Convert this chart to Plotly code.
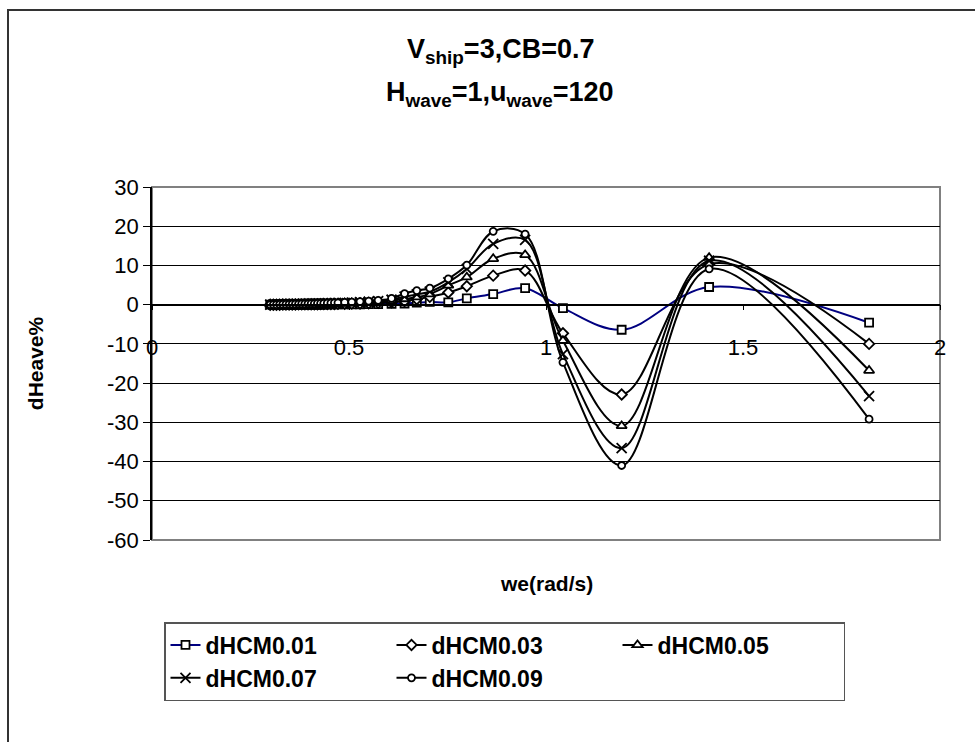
import plotly.graph_objects as go

we = [0.300, 0.308, 0.316, 0.324, 0.332, 0.340, 0.348, 0.356, 0.364, 0.372,
      0.380, 0.388, 0.396, 0.404, 0.412, 0.420, 0.428, 0.436, 0.445, 0.454,
      0.463, 0.472, 0.489, 0.507, 0.528, 0.550, 0.574, 0.608, 0.641, 0.672,
      0.705, 0.752, 0.799, 0.866, 0.947, 1.043, 1.192, 1.414, 1.820]

dHCM001 = [0.0, 0.0, 0.0, 0.0, 0.0, 0.0, 0.0, 0.0, 0.01, 0.01,
           0.01, 0.02, 0.02, 0.02, 0.03, 0.03, 0.04, 0.04, 0.05, 0.05,
           0.06, 0.06, 0.07, 0.08, 0.1, 0.12, 0.15, 0.2, 0.3, 0.5,
           0.7, 0.6, 1.6, 2.7, 4.2, -0.9, -6.4, 4.5, -4.6]
dHCM003 = [0.0, 0.0, 0.0, 0.0, 0.02, 0.03, 0.04, 0.05, 0.06, 0.07,
           0.08, 0.09, 0.1, 0.11, 0.12, 0.13, 0.14, 0.15, 0.16, 0.17,
           0.18, 0.2, 0.23, 0.27, 0.32, 0.38, 0.46, 0.62, 0.9, 1.4,
           2.0, 3.1, 4.7, 7.4, 8.7, -7.3, -22.9, 10.3, -10.0]
dHCM005 = [0.0, 0.0, 0.0, 0.02, 0.03, 0.05, 0.06, 0.08, 0.09, 0.1,
           0.12, 0.13, 0.15, 0.16, 0.18, 0.19, 0.21, 0.23, 0.25, 0.27,
           0.29, 0.31, 0.36, 0.42, 0.5, 0.6, 0.72, 0.98, 1.45, 1.9,
           2.7, 4.9, 7.0, 11.7, 12.7, -9.2, -30.9, 12.0, -16.8]
dHCM007 = [0.0, 0.0, 0.02, 0.03, 0.05, 0.06, 0.08, 0.1, 0.12, 0.13,
           0.15, 0.17, 0.19, 0.21, 0.23, 0.25, 0.27, 0.29, 0.32, 0.34,
           0.37, 0.4, 0.46, 0.53, 0.62, 0.74, 0.9, 1.25, 2.05, 2.6,
           3.3, 5.7, 9.1, 15.5, 16.5, -12.6, -36.6, 11.2, -23.3]
dHCM009 = [0.0, 0.02, 0.03, 0.05, 0.07, 0.09, 0.11, 0.13, 0.15, 0.17,
           0.19, 0.21, 0.24, 0.26, 0.28, 0.31, 0.33, 0.36, 0.39, 0.42,
           0.46, 0.49, 0.57, 0.66, 0.78, 0.92, 1.1, 1.6, 2.8, 3.6,
           4.2, 6.6, 10.1, 18.7, 18.0, -14.7, -41.0, 9.1, -29.2]

names = ["dHCM0.01", "dHCM0.03", "dHCM0.05", "dHCM0.07", "dHCM0.09"]
values = [dHCM001, dHCM003, dHCM005, dHCM007, dHCM009]
line_colors = ["#000080", "black", "black", "black", "black"]
symbols = ["square", "diamond", "triangle-up", "x-thin", "circle"]
marker_sizes = [8, 8, 9, 10, 7]

x_ticks = [0, 0.5, 1, 1.5, 2]
y_ticks = [30, 20, 10, 0, -10, -20, -30, -40, -50, -60]

title_lines = ["<b>V<sub>ship</sub>=3,CB=0.7</b>",
               "<b>H<sub>wave</sub>=1,u<sub>wave</sub>=120</b>"]
x_title = "<b>we(rad/s)</b>"
y_title = "<b>dHeave%</b>"

FONT = "Liberation Sans, Arial, sans-serif"

for v in values:
    assert len(v) == len(we)

fig = go.Figure()
for name, ys, lc, sym, ms in zip(names, values, line_colors, symbols, marker_sizes):
    if sym == "x-thin":
        mk = dict(symbol=sym, size=ms, color="black", line=dict(color="black", width=1.8))
    else:
        mk = dict(symbol=sym, size=ms, color="white", line=dict(color="black", width=1.8))
    fig.add_trace(go.Scatter(
        x=we, y=ys, name=name, mode="lines+markers",
        line=dict(color=lc, width=2, shape="spline", smoothing=1.0),
        marker=mk, cliponaxis=False,
    ))

# plot frame (grey) and outer chart border
fig.add_shape(type="rect", xref="paper", yref="paper", x0=0, x1=1, y0=0, y1=1,
              line=dict(color="#808080", width=2), layer="below")
fig.add_shape(type="rect", xref="paper", yref="paper",
              x0=(8 - 152) / 788, x1=(1010 - 152) / 788,
              y0=(540 - 780) / 353, y1=(540 - 10) / 353,
              line=dict(color="#333333", width=2), layer="below")

# title lines
for txt, py in zip(title_lines, [51, 94]):
    fig.add_annotation(text=txt, xref="paper", yref="paper",
                       x=(500 - 152) / 788, y=(540 - py) / 353,
                       xanchor="center", yanchor="middle", showarrow=False,
                       font=dict(family=FONT, size=27, color="black"))

fig.add_annotation(text=x_title, xref="paper", yref="paper",
                   x=0.5, y=(540 - 583) / 353, xanchor="center", yanchor="middle",
                   showarrow=False,
                   font=dict(family=FONT, size=21, color="black"))

fig.update_layout(
    width=975, height=742,
    margin=dict(l=152, r=35, t=187, b=202, pad=0),
    paper_bgcolor="white", plot_bgcolor="white",
    font=dict(family=FONT, color="black"),
    xaxis=dict(
        range=[0, 2], tickvals=x_ticks, ticktext=[str(v) for v in x_ticks],
        anchor="free", position=60 / 90,
        showline=True, linecolor="black", linewidth=1.5,
        ticks="outside", ticklen=5, tickcolor="black", tickwidth=1,
        ticklabelstandoff=18,
        showgrid=False, zeroline=False,
        tickfont=dict(family=FONT, size=22, color="black"),
    ),
    yaxis=dict(
        range=[-60, 30], tickvals=y_ticks, ticktext=[str(v) for v in y_ticks],
        showline=True, linecolor="black", linewidth=1.5,
        ticks="outside", ticklen=7, tickcolor="black", tickwidth=1,
        showgrid=True, gridcolor="black", gridwidth=1, zeroline=False,
        tickfont=dict(family=FONT, size=22, color="black"),
        title=dict(text=y_title, standoff=58,
                   font=dict(family=FONT, size=21, color="black")),
    ),
    legend=dict(
        orientation="h", x=(164 - 152) / 788, xanchor="left",
        y=(540 - 622) / 353, yanchor="top",
        entrywidth=181, entrywidthmode="pixels",
        bordercolor="#555555", borderwidth=1.5, bgcolor="white",
        font=dict(family=FONT, size=23, color="black", weight="bold"),
        tracegroupgap=0, itemsizing="trace",
    ),
    showlegend=True,
)

fig.write_html("out.html")
